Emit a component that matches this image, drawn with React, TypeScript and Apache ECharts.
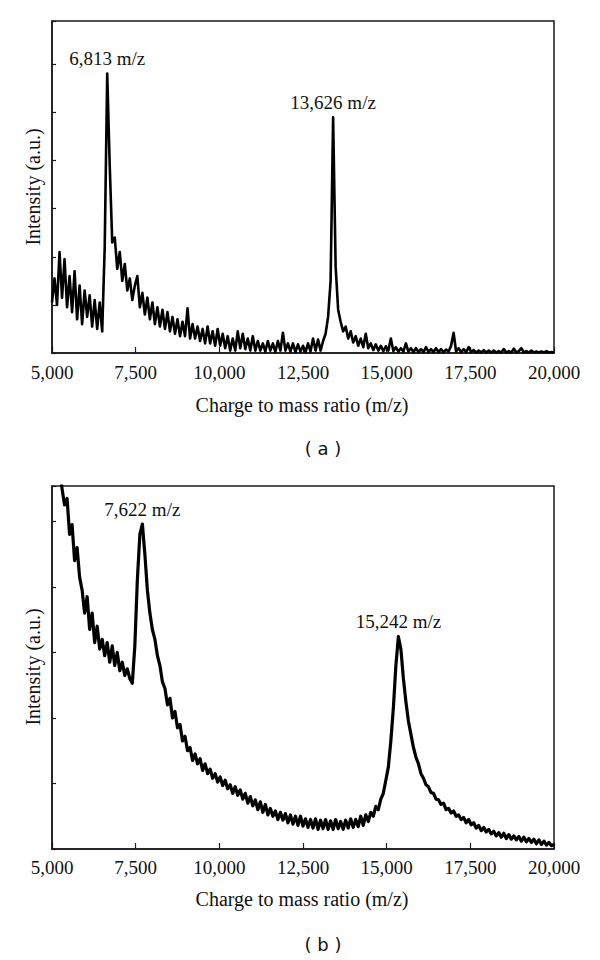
import React, { useEffect, useRef } from 'react';
import * as echarts from 'echarts';

const MZ_START = 5000;
const MZ_STEP = 75;
const X_MIN = 5000;
const X_MAX = 20000;
const X_INTERVAL = 2500;

// (a) intensity, a.u. (one tick = 1)
const intensityA = [
  1.05, 1.55, 1.0, 2.1, 1.15, 1.95, 0.95, 1.6, 0.85, 1.7,
  0.7, 1.4, 0.6, 1.3, 0.75, 1.2, 0.55, 1.1, 0.5, 1.05,
  0.45, 2.2, 5.81, 3.9, 2.3, 2.4, 1.75, 2.1, 1.5, 1.85,
  1.3, 1.55, 1.1, 1.4, 1.6, 0.95, 1.25, 0.8, 1.15, 0.7,
  1.05, 0.6, 0.95, 0.55, 0.9, 0.5, 0.85, 0.45, 0.75, 0.4,
  0.7, 0.35, 0.65, 0.35, 0.93, 0.3, 0.6, 0.3, 0.55, 0.25,
  0.5, 0.2, 0.55, 0.2, 0.45, 0.15, 0.5, 0.15, 0.4, 0.1,
  0.35, 0.05, 0.3, 0.05, 0.45, 0.1, 0.4, 0.08, 0.3, 0.05,
  0.35, 0.05, 0.25, 0.05, 0.2, 0.03, 0.25, 0.05, 0.2, 0.02,
  0.25, 0.05, 0.42, 0.05, 0.2, 0.03, 0.2, 0.02, 0.18, 0.03,
  0.15, 0.02, 0.2, 0.03, 0.3, 0.05, 0.28, 0.05, 0.25, 0.4,
  0.75, 1.5, 4.9, 1.8, 0.9, 0.65, 0.45, 0.55, 0.3, 0.45,
  0.22, 0.35, 0.15, 0.3, 0.12, 0.4, 0.1, 0.2, 0.06, 0.18,
  0.05, 0.15, 0.04, 0.14, 0.05, 0.3, 0.04, 0.12, 0.03, 0.1,
  0.03, 0.2, 0.03, 0.1, 0.02, 0.1, 0.02, 0.08, 0.02, 0.12,
  0.02, 0.08, 0.02, 0.1, 0.02, 0.08, 0.02, 0.07, 0.03, 0.15,
  0.42, 0.03, 0.1, 0.02, 0.08, 0.02, 0.12, 0.02, 0.06, 0.01,
  0.05, 0.01, 0.06, 0.01, 0.05, 0.01, 0.05, 0.01, 0.04, 0.01,
  0.08, 0.01, 0.04, 0.01, 0.09, 0.01, 0.04, 0.1, 0.01, 0.04,
  0.01, 0.05, 0.01, 0.03, 0.01, 0.03, 0.01, 0.04, 0.01, 0.02,
  0.01,
];

// (b) intensity, a.u. (one tick = 1)
const intensityB = [
  6.6, 6.3, 6.1, 5.8, 5.5, 5.25, 5.35, 4.8, 4.95, 4.4,
  4.6, 4.15, 3.95, 3.6, 3.85, 3.35, 3.6, 3.15, 3.4, 3.05,
  3.2, 2.95, 3.15, 2.85, 3.1, 2.8, 3.0, 2.72, 2.85, 2.65,
  2.75, 2.6, 2.53, 3.1, 4.1, 4.8, 4.96, 4.5, 3.95, 3.6,
  3.35, 3.2, 2.95, 2.8, 2.55, 2.45, 2.2, 2.3, 2.0, 2.1,
  1.85, 1.9, 1.65, 1.72, 1.5, 1.55, 1.35, 1.45, 1.3, 1.38,
  1.2, 1.3, 1.15, 1.22, 1.08, 1.15, 1.02, 1.1, 0.97, 1.05,
  0.92, 0.98, 0.85, 0.95, 0.82, 0.9, 0.76, 0.85, 0.7, 0.8,
  0.66, 0.75, 0.6, 0.72, 0.56, 0.68, 0.52, 0.62, 0.5, 0.58,
  0.45, 0.56, 0.44, 0.54, 0.4, 0.52, 0.38, 0.5, 0.36, 0.5,
  0.35, 0.46, 0.33, 0.45, 0.32, 0.46, 0.3, 0.44, 0.31, 0.45,
  0.3, 0.43, 0.3, 0.45, 0.31, 0.42, 0.3, 0.44, 0.32, 0.46,
  0.33, 0.45, 0.34, 0.5, 0.36, 0.52, 0.42, 0.56, 0.5, 0.65,
  0.6, 0.76, 0.85, 1.05, 1.25, 1.65, 2.15, 2.8, 3.24, 3.05,
  2.6, 2.25, 1.95, 1.75, 1.55, 1.4, 1.3, 1.15, 1.08, 0.98,
  0.95, 0.86, 0.85, 0.76, 0.75, 0.68, 0.7, 0.6, 0.62, 0.55,
  0.58, 0.5, 0.52, 0.45, 0.48, 0.4, 0.45, 0.37, 0.4, 0.32,
  0.36, 0.28, 0.33, 0.26, 0.3, 0.23, 0.27, 0.2, 0.25, 0.18,
  0.24, 0.16, 0.22, 0.15, 0.2, 0.14, 0.19, 0.12, 0.18, 0.11,
  0.16, 0.1, 0.15, 0.08, 0.14, 0.07, 0.12, 0.06, 0.1, 0.05,
  0.07,
];

const Y_MAX_A = 6.9;
const Y_MAX_B = 5.54;

// peak annotations: sample index of the apex and its label
const peaksA = [
  { index: 22, label: '6,813 m/z' },
  { index: 112, label: '13,626 m/z' },
];
const peaksB = [
  { index: 36, label: '7,622 m/z' },
  { index: 138, label: '15,242 m/z' },
];

const X_TITLE = 'Charge to mass ratio (m/z)';
const Y_TITLE = 'Intensity (a.u.)';
const PANEL_LABELS = ['( a )', '( b )'];

const SERIF = "'Liberation Serif', 'DejaVu Serif', serif";
const SANS = "'DejaVu Sans', 'Liberation Sans', sans-serif";
const INK = '#111';

const toPairs = (vals: number[]) => vals.map((v, i) => [MZ_START + i * MZ_STEP, v]);

const fmt = (v: number) => String(Math.round(v)).replace(/\B(?=(\d{3})+(?!\d))/g, ',');

export default function App() {
  const ref = useRef<HTMLDivElement>(null);

  useEffect(() => {
    document.body.style.margin = '0';
    if (!ref.current) return;
    const chart = echarts.init(ref.current, undefined, { renderer: 'svg' });

    const grids = [
      { left: 52, top: 21, width: 502, height: 332 },
      { left: 52, top: 486, width: 502, height: 363 },
    ];

    const xAxis = [0, 1].map((g) => ({
      type: 'value',
      gridIndex: g,
      min: X_MIN,
      max: X_MAX,
      interval: X_INTERVAL,
      axisLine: { show: true, lineStyle: { color: '#1a1a1a', width: 1.5 } },
      axisTick: { show: true, inside: true, length: 6, lineStyle: { color: '#1a1a1a', width: 1.2 } },
      axisLabel: {
        show: true,
        margin: g === 0 ? 10 : 9,
        color: INK,
        fontFamily: SERIF,
        fontSize: 19,
        formatter: (v: number) => fmt(v),
        showMinLabel: true,
        showMaxLabel: true,
      },
      splitLine: { show: false },
    }));

    const yAxis = [Y_MAX_A, Y_MAX_B].map((mx, g) => ({
      type: 'value',
      gridIndex: g,
      min: 0,
      max: mx,
      interval: 1,
      axisLine: { show: true, lineStyle: { color: '#1a1a1a', width: 1.5 } },
      axisTick: { show: true, inside: true, length: 4, lineStyle: { color: '#1a1a1a', width: 1.2 } },
      axisLabel: { show: false },
      splitLine: { show: false },
    }));

    const mkSeries = (vals: number[], peaks: { index: number; label: string }[], g: number, w: number) => {
      const data = toPairs(vals);
      return {
        type: 'line',
        xAxisIndex: g,
        yAxisIndex: g,
        data,
        showSymbol: false,
        symbol: 'none',
        clip: true,
        lineStyle: { color: '#000', width: w, join: 'round' },
        markPoint: {
          symbol: 'circle',
          symbolSize: 1,
          itemStyle: { color: 'rgba(0,0,0,0)' },
          label: {
            show: true,
            position: 'top',
            distance: 5,
            color: INK,
            fontFamily: SERIF,
            fontSize: 19,
            formatter: (p: any) => p.name,
          },
          data: peaks.map((p) => ({ name: p.label, coord: data[p.index] })),
        },
      };
    };

    const titleText = (text: string, x: number, y: number, rot = 0, font = SERIF, size = 20) => ({
      type: 'text',
      x,
      y,
      rotation: rot,
      style: {
        text,
        fill: INK,
        font: `${size}px ${font}`,
        textAlign: 'center',
        textVerticalAlign: 'middle',
      },
    });

    chart.setOption({
      animation: false,
      backgroundColor: '#fff',
      grid: grids.map((g) => ({ ...g, show: true, borderColor: '#1a1a1a', borderWidth: 1.5, backgroundColor: 'transparent' })),
      xAxis,
      yAxis,
      series: [mkSeries(intensityA, peaksA, 0, 2.6), mkSeries(intensityB, peaksB, 1, 3.2)],
      graphic: [
        titleText(X_TITLE, 302, 405),
        titleText(X_TITLE, 302, 899),
        titleText(Y_TITLE, 33, 187, Math.PI / 2),
        titleText(Y_TITLE, 33, 667, Math.PI / 2),
        titleText(PANEL_LABELS[0], 323, 448, 0, SANS, 18),
        titleText(PANEL_LABELS[1], 323, 944, 0, SANS, 18),
      ],
    });

    return () => chart.dispose();
  }, []);

  return <div ref={ref} style={{ width: 600, height: 960 }} />;
}
